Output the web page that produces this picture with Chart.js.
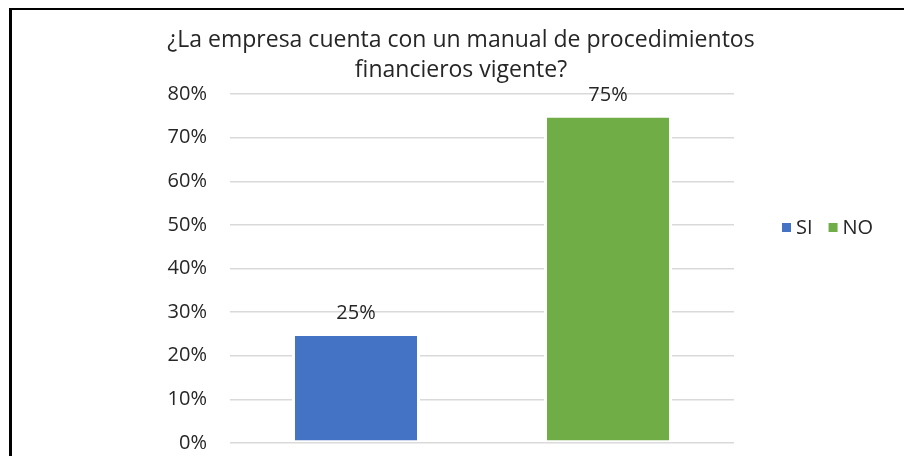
<html>
<head>
<script src="https://cdn.jsdelivr.net/npm/chart.js@4.4.0/dist/chart.umd.min.js"></script>
<style>
body { margin: 0; background: #ffffff; }
#box { width: 904px; height: 456px; }
</style>
</head>
<body>
<div id="box"><canvas id="myChart" width="904" height="456"></canvas></div>
<script type="text/javascript">

// data
let categories = ["SI", "NO"];
let values = [0.25, 0.75];
let barColors = ["#4472C4", "#70AD47"];
let titleLines = ["¿La empresa cuenta con un manual de procedimientos", "financieros vigente?"];
let yTicks = [0, 0.1, 0.2, 0.3, 0.4, 0.5, 0.6, 0.7, 0.8];

let font = "'Open Sans', 'Liberation Sans', sans-serif";

function pct(v){
	return Math.round(v * 100) + "%";
}

// white page, black frame and the title
let frame = {
	id: "frame",
	beforeDraw(chart){
		let ctx = chart.ctx;
		ctx.save();
		ctx.fillStyle = "#ffffff";
		ctx.fillRect(0, 0, chart.width, chart.height);
		ctx.fillStyle = "#000000";
		ctx.fillRect(9, 8, 3, chart.height);
		ctx.fillRect(9, 8, chart.width, 2);
		ctx.fillStyle = "#262626";
		ctx.font = "23px " + font;
		ctx.textAlign = "center";
		ctx.textBaseline = "alphabetic";
		ctx.fillText(titleLines[0], 461, 47);
		ctx.fillText(titleLines[1], 461, 77);
		ctx.restore();
	}
};

// value labels over the bars and the legend on the right
let extras = {
	id: "extras",
	afterDatasetsDraw(chart){
		let ctx = chart.ctx;
		let meta = chart.getDatasetMeta(0);
		ctx.save();
		ctx.fillStyle = "#262626";
		ctx.font = "20px " + font;
		ctx.textAlign = "center";
		ctx.textBaseline = "alphabetic";
		meta.data.forEach((bar, i) => {
			ctx.fillText(pct(values[i]), bar.x, bar.y - 15);
		});

		let x = 782;
		let y = 228;
		ctx.textAlign = "left";
		ctx.textBaseline = "middle";
		categories.forEach((c, i) => {
			ctx.fillStyle = barColors[i];
			ctx.fillRect(x, y - 5, 9, 9);
			ctx.fillStyle = "#262626";
			ctx.fillText(c, x + 14, y);
			x += 14 + ctx.measureText(c).width + 16;
		});
		ctx.restore();
	}
};

new Chart("myChart", {
	type: "bar",
	data: {
		labels: categories,
		datasets: [{
			data: values,
			backgroundColor: barColors,
			borderColor: "#ffffff",
			borderWidth: {top: 2, bottom: 2, left: 3, right: 3},
			borderSkipped: false,
			categoryPercentage: 1,
			barPercentage: 0.508
		}]
	},
	options: {
		responsive: false,
		animation: false,
		layout: {padding: {left: 0, right: 170, top: 94, bottom: 13}},
		plugins: {
			legend: {display: false},
			title: {display: false},
			tooltip: {enabled: false}
		},
		scales: {
			x: {display: false},
			y: {
				min: 0,
				max: 0.8,
				afterFit: function(scale){
					scale.width = 230;
					scale.paddingTop = 0;
					scale.paddingBottom = 0;
				},
				afterBuildTicks: function(scale){
					scale.ticks = yTicks.map(v => ({value: v}));
				},
				border: {display: false},
				grid: {color: "#d9d9d9", lineWidth: 1.5, drawTicks: false},
				ticks: {
					color: "#262626",
					padding: 23,
					font: {family: font, size: 20},
					callback: function(v){ return pct(v); }
				}
			}
		}
	},
	plugins: [frame, extras]
});

</script>
</body>
</html>
